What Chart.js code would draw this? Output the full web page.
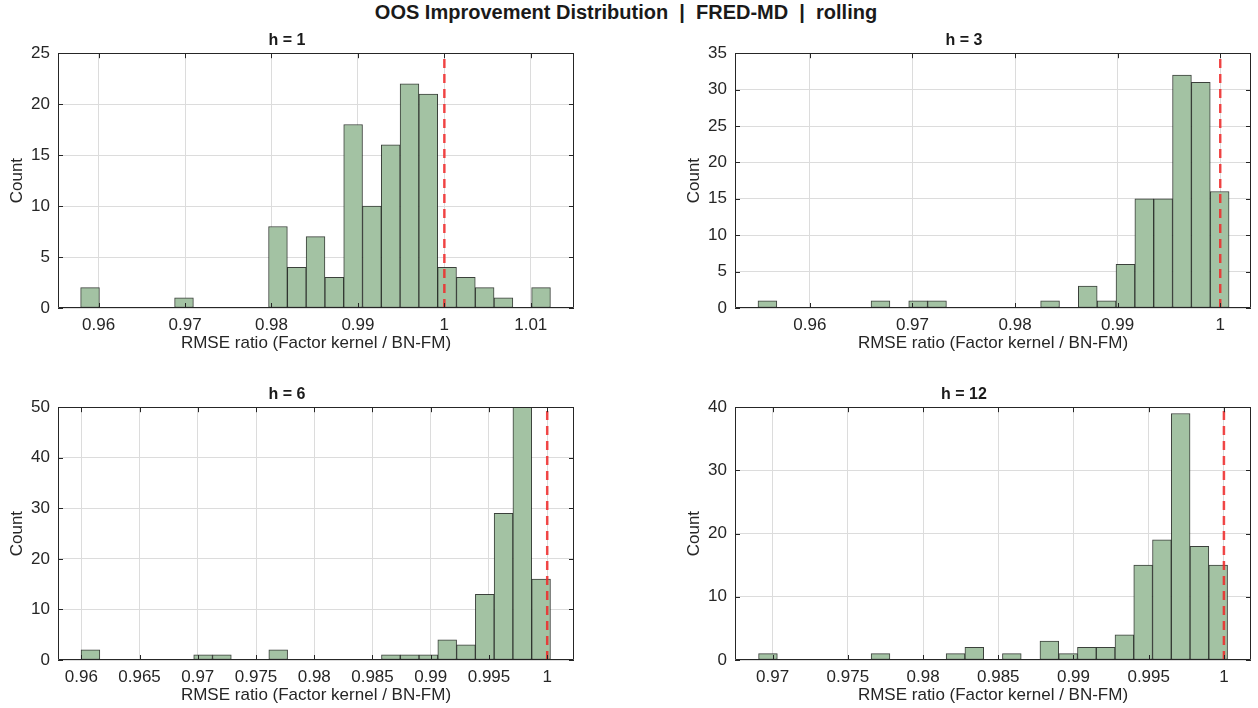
<!DOCTYPE html>
<html>
<head>
<meta charset="utf-8">
<title>OOS Improvement Distribution</title>
<script src="https://cdn.jsdelivr.net/npm/chart.js@4.4.1/dist/chart.umd.min.js"></script>
<style>
    html, body { margin: 0; padding: 0; background: #fff; overflow: hidden; }
    body { width: 1258px; height: 708px; position: relative; font-family: "Liberation Sans", Arial, sans-serif; }
    #suptitle {
        position: absolute; left: 0; top: 0; width: 1252px; line-height: 24px;
        text-align: center; font-weight: bold; font-size: 20px; color: #1a1a1a;
    }
    canvas { position: absolute; }
</style>
</head>
<body>
<div id="suptitle">OOS Improvement Distribution&nbsp; | &nbsp;FRED-MD&nbsp; | &nbsp;rolling</div>
<canvas id="histH1" width="580" height="331" style="left:0px; top:23px;"></canvas>
<canvas id="histH3" width="580" height="331" style="left:677px; top:23px;"></canvas>
<canvas id="histH6" width="580" height="329" style="left:0px; top:377px;"></canvas>
<canvas id="histH12" width="580" height="329" style="left:677px; top:377px;"></canvas>

<script>
// Histogram counts per horizon (25 equal-width bins each)
const countsH1 = [2, 0, 0, 0, 0, 1, 0, 0, 0, 0, 8, 4, 7, 3, 18, 10, 16, 22, 21, 4, 3, 2, 1, 0, 2];
const countsH3 = [1, 0, 0, 0, 0, 0, 1, 0, 1, 1, 0, 0, 0, 0, 0, 1, 0, 3, 1, 6, 15, 15, 32, 31, 16];
const countsH6 = [2, 0, 0, 0, 0, 0, 1, 1, 0, 0, 2, 0, 0, 0, 0, 0, 1, 1, 1, 4, 3, 13, 29, 50, 16];
const countsH12 = [1, 0, 0, 0, 0, 0, 1, 0, 0, 0, 1, 2, 0, 1, 0, 3, 1, 2, 2, 4, 15, 19, 39, 18, 15];

// Left edge of the first bin and bin width
const binStartH1 = 0.95792, binWidthH1 = 0.0021741;
const binStartH3 = 0.954941, binWidthH3 = 0.0018369;
const binStartH6 = 0.95998, binWidthH6 = 0.001612;
const binStartH12 = 0.969067, binWidthH12 = 0.001247;

// Axis limits and ticks
const xRangeH1 = [0.9553, 1.0150];
const xRangeH3 = [0.9527, 1.0030];
const xRangeH6 = [0.9580, 1.0023];
const xRangeH12 = [0.9675, 1.0018];

const xTicksH1 = [0.96, 0.97, 0.98, 0.99, 1, 1.01];
const xTicksH3 = [0.96, 0.97, 0.98, 0.99, 1];
const xTicksH6 = [0.96, 0.965, 0.97, 0.975, 0.98, 0.985, 0.99, 0.995, 1];
const xTicksH12 = [0.97, 0.975, 0.98, 0.985, 0.99, 0.995, 1];

const yMaxH1 = 25, yStepH1 = 5;
const yMaxH3 = 35, yStepH3 = 5;
const yMaxH6 = 50, yStepH6 = 10;
const yMaxH12 = 40, yStepH12 = 10;

// Reference ratio (no improvement)
const refRatio = 1;

const FONT = '"Liberation Sans", Arial, sans-serif';
const INK = '#262626';

// Box around the plot area with inward tick marks on every side
const axesBoxPlugin = {
    id: 'axesBox',
    afterDatasetsDraw(chart) {
        const { ctx, chartArea: a, scales: { x, y } } = chart;
        const len = 5;
        ctx.save();
        ctx.strokeStyle = INK;
        ctx.lineWidth = 1;
        ctx.beginPath();
        ctx.rect(Math.round(a.left) + 0.5, Math.round(a.top) + 0.5,
                 Math.round(a.right) - Math.round(a.left) - 1, Math.round(a.bottom) - Math.round(a.top) - 1);
        x.ticks.forEach(t => {
            const px = Math.round(x.getPixelForValue(t.value)) + 0.5;
            ctx.moveTo(px, a.bottom); ctx.lineTo(px, a.bottom - len);
            ctx.moveTo(px, a.top); ctx.lineTo(px, a.top + len);
        });
        y.ticks.forEach(t => {
            const py = Math.round(y.getPixelForValue(t.value)) + 0.5;
            ctx.moveTo(a.left, py); ctx.lineTo(a.left + len, py);
            ctx.moveTo(a.right, py); ctx.lineTo(a.right - len, py);
        });
        ctx.stroke();
        ctx.restore();
    }
};

function drawHistogram(canvasId, label, counts, binStart, binWidth, xRange, xTicks, yMax, yStep) {
    // bars sit at the bin centres
    const bars = counts.map((c, i) => ({ x: binStart + (i + 0.5) * binWidth, y: c }));

    new Chart(document.getElementById(canvasId), {
        type: 'bar',
        data: {
            datasets: [{
                type: 'bar',
                data: bars,
                backgroundColor: '#a3c2a3',
                borderColor: 'rgba(25, 30, 25, 0.85)',
                borderWidth: 1,
                borderSkipped: false,
                barPercentage: 1,
                categoryPercentage: 1,
                grouped: false,
                order: 2
            }, {
                type: 'line',
                data: [{ x: refRatio, y: 0 }, { x: refRatio, y: yMax }],
                borderColor: 'rgba(240, 40, 40, 0.85)',
                borderWidth: 2.5,
                borderDash: [9, 6],
                pointRadius: 0,
                order: 1
            }]
        },
        options: {
            responsive: false,
            animation: false,
            devicePixelRatio: 1,
            layout: { padding: { left: 0, right: 6, top: 0, bottom: 0 } },
            plugins: {
                legend: { display: false },
                tooltip: { enabled: false },
                title: {
                    display: true,
                    text: label,
                    color: '#1a1a1a',
                    font: { family: FONT, size: 16, weight: 'bold' },
                    padding: { top: 8, bottom: 3 }
                }
            },
            scales: {
                x: {
                    type: 'linear',
                    offset: false,
                    min: xRange[0],
                    max: xRange[1],
                    afterBuildTicks: scale => { scale.ticks = xTicks.map(v => ({ value: v })); },
                    afterFit: scale => { scale.height = 46; },
                    grid: { color: '#dcdcdc', drawTicks: false, offset: false },
                    border: { display: false },
                    ticks: {
                        color: INK, padding: 7, maxRotation: 0, autoSkip: false,
                        font: { family: FONT, size: 17 },
                        callback: v => String(v)
                    },
                    title: {
                        display: true,
                        text: 'RMSE ratio (Factor kernel / BN-FM)',
                        color: INK,
                        font: { family: FONT, size: 17 },
                        padding: { top: 0, bottom: 0 }
                    }
                },
                y: {
                    min: 0,
                    max: yMax,
                    afterFit: scale => { scale.width = 58; },
                    grid: { color: '#dcdcdc', drawTicks: false },
                    border: { display: false },
                    ticks: {
                        stepSize: yStep, color: INK, padding: 8,
                        font: { family: FONT, size: 17 }
                    },
                    title: {
                        display: true,
                        text: 'Count',
                        color: INK,
                        font: { family: FONT, size: 17 },
                        padding: { top: 7, bottom: 0 }
                    }
                }
            }
        },
        plugins: [axesBoxPlugin]
    });
}

drawHistogram('histH1', 'h = 1', countsH1, binStartH1, binWidthH1, xRangeH1, xTicksH1, yMaxH1, yStepH1);
drawHistogram('histH3', 'h = 3', countsH3, binStartH3, binWidthH3, xRangeH3, xTicksH3, yMaxH3, yStepH3);
drawHistogram('histH6', 'h = 6', countsH6, binStartH6, binWidthH6, xRangeH6, xTicksH6, yMaxH6, yStepH6);
drawHistogram('histH12', 'h = 12', countsH12, binStartH12, binWidthH12, xRangeH12, xTicksH12, yMaxH12, yStepH12);
</script>
</body>
</html>
